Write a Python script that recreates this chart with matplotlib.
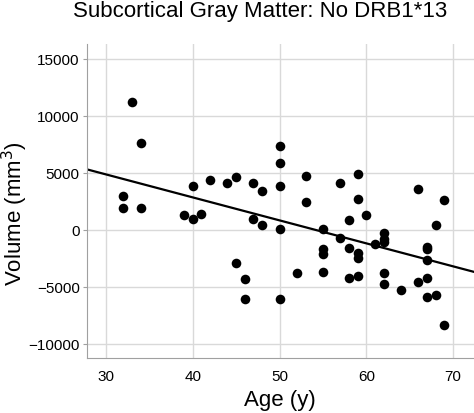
import matplotlib
matplotlib.use("Agg")
import matplotlib.pyplot as plt
import numpy as np

# ---- data ------------------------------------------------------------------
age = [33, 34, 32, 32, 34, 40, 39, 40, 41, 42, 44, 45, 47, 48, 50, 50, 50, 47,
       48, 50, 45, 46, 46, 50, 53, 53, 57, 59, 59, 60, 58, 55, 57, 58, 59, 59,
       55, 55, 52, 55, 58, 59, 61, 62, 62, 62, 62, 62, 64, 66, 66, 67, 67, 67,
       67, 67, 68, 68, 69, 69]
volume = [11200, 7650, 3000, 1900, 1950, 3800, 1300, 950, 1420, 4340, 4080,
          4670, 4140, 3380, 7350, 5820, 3800, 950, 400, 60, -2910, -4370, -6070,
          -6050, 4720, 2410, 4140, 4870, 2670, 1330, 860, 40, -690, -1620, -2060,
          -2500, -1710, -2150, -3815, -3750, -4280, -4050, -1270, -250, -800,
          -1050, -3840, -4750, -5300, 3550, -4630, -1500, -1710, -2675, -4230,
          -5890, -5740, 420, 2650, -8380]
fit_intercept, fit_slope = 10920, -202   # regression line as drawn

xticks = [30, 40, 50, 60, 70]
yticks = [-10000, -5000, 0, 5000, 10000, 15000]

plt.rcParams['font.family'] = ['Liberation Sans', 'DejaVu Sans']

fig = plt.figure(figsize=(4.74, 4.14), dpi=100)
ax = fig.add_axes([0.183, 0.132, 0.817, 0.759])

ax.scatter(age, volume, s=48, color='black', zorder=3, linewidths=0)
xl = np.array([27.8, 72.4])
ax.plot(xl, fit_intercept + fit_slope * xl, color='black', lw=1.6, zorder=2)

ax.set_xlim(27.8, 72.4)
ax.set_ylim(-11300, 16300)
ax.set_xticks(xticks)
ax.set_yticks(yticks)
ax.grid(True, color='#d9d9d9', lw=1)
ax.set_axisbelow(True)
for s in ('top', 'right'):
    ax.spines[s].set_visible(False)
for s in ('left', 'bottom'):
    ax.spines[s].set_color('#a0a0a0')
ax.tick_params(axis='x', length=0, labelsize=11, pad=8)
ax.tick_params(axis='y', length=3, color='#a0a0a0', labelsize=11, pad=2)

ax.set_xlabel('Age (y)', fontsize=16, labelpad=4)
fig.text(15 / 474, 0.484, 'Volume (mm$^3$)', fontsize=16, rotation=90,
         ha='center', va='center')
fig.text(260 / 474, 1 - 1 / 414, 'Subcortical Gray Matter: No DRB1*13',
         fontsize=16, ha='center', va='top')

fig.savefig('out.png', dpi=100)
